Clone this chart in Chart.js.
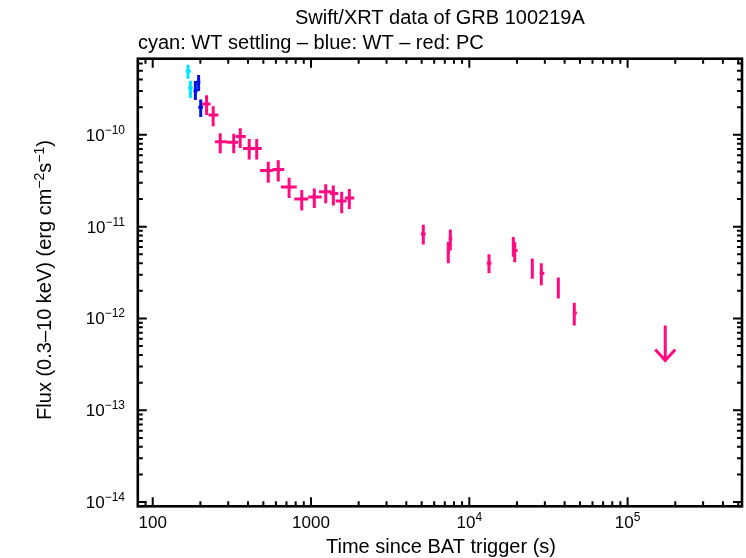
<!DOCTYPE html>
<html>
<head>
<meta charset="utf-8">
<script src="https://cdn.jsdelivr.net/npm/chart.js@4"></script>
<style>
  html, body { margin: 0; padding: 0; background: #fff; }
  #wrap { width: 746px; height: 558px; }
</style>
</head>
<body>
<div id="wrap"><canvas id="lc" width="746" height="558"></canvas></div>
<script>
// light curve data: [time, timeLo, timeHi, flux, fluxLo, fluxHi]
const wtSettling = [
    [167, 162, 174, 4.93e-10, 4.09e-10, 5.81e-10],
    [173, 167, 179, 3.24e-10, 2.52e-10, 3.89e-10]
];
const wtMode = [
    [186, 181, 192, 3.01e-10, 2.40e-10, 3.86e-10],
    [195, 189, 200, 3.77e-10, 3.01e-10, 4.49e-10],
    [201, 194, 208, 2.00e-10, 1.56e-10, 2.42e-10]
];
const pcMode = [
    [219, 205, 232, 2.17e-10, 1.64e-10, 2.70e-10],
    [241, 225, 260, 1.64e-10, 1.24e-10, 2.05e-10],
    [267, 247, 295, 8.4e-11, 6.3e-11, 1.04e-10],
    [325, 295, 346, 8.3e-11, 6.3e-11, 1.03e-10],
    [357, 334, 387, 9.6e-11, 7.2e-11, 1.18e-10],
    [407, 372, 443, 7.1e-11, 5.4e-11, 9.0e-11],
    [454, 443, 488, 7.1e-11, 5.4e-11, 9.0e-11],
    [537, 476, 578, 4.1e-11, 3.0e-11, 5.1e-11],
    [621, 570, 678, 4.2e-11, 3.1e-11, 5.3e-11],
    [727, 646, 812, 2.7e-11, 2.05e-11, 3.4e-11],
    [874, 784, 961, 2.0e-11, 1.5e-11, 2.5e-11],
    [1049, 961, 1168, 2.1e-11, 1.6e-11, 2.6e-11],
    [1239, 1123, 1351, 2.4e-11, 1.8e-11, 2.9e-11],
    [1384, 1318, 1488, 2.3e-11, 1.7e-11, 2.8e-11],
    [1563, 1432, 1681, 1.9e-11, 1.4e-11, 2.4e-11],
    [1746, 1640, 1877, 2.05e-11, 1.56e-11, 2.57e-11],
    [5120, 4950, 5300, 8.3e-12, 6.4e-12, 1.05e-11],
    [7363, 7200, 7550, 5.3e-12, 4.0e-12, 6.8e-12],
    [7585, 7400, 7800, 7.4e-12, 5.5e-12, 9.3e-12],
    [13320, 12900, 13800, 4.0e-12, 3.1e-12, 5.0e-12],
    [18970, 18600, 19400, 6.2e-12, 4.7e-12, 7.7e-12],
    [19360, 19000, 20200, 5.5e-12, 4.1e-12, 6.8e-12],
    [25000, 24500, 25500, 3.65e-12, 2.7e-12, 4.5e-12],
    [28510, 27800, 29800, 3.1e-12, 2.3e-12, 4.0e-12],
    [36500, 36000, 37000, 2.2e-12, 1.65e-12, 2.8e-12],
    [46030, 45000, 47800, 1.15e-12, 8.4e-13, 1.48e-12]
];
// upper limit: [time, flux limit]
const pcUpperLimits = [
    [172900, 8.4e-13]
];

const xTicks = [100, 1000, 1e4, 1e5];
const xTickLabels = [['100', ''], ['1000', ''], ['10', '4'], ['10', '5']];
const yTicks = [1e-10, 1e-11, 1e-12, 1e-13, 1e-14];
const yTickLabels = [['10', '\u221210'], ['10', '\u221211'], ['10', '\u221212'], ['10', '\u221213'], ['10', '\u221214']];

const FONT = "'Liberation Sans', Arial, Helvetica, sans-serif";

function toPoints(rows) {
    return rows.map(r => ({ x: r[0], y: r[3], xLo: r[1], xHi: r[2], yLo: r[4], yHi: r[5] }));
}

// text with superscript parts, segs = [[text, isSup], ...]
function segWidth(ctx, segs, size, supSize) {
    let w = 0;
    segs.forEach(s => {
        ctx.font = (s[1] ? supSize : size) + 'px ' + FONT;
        w += ctx.measureText(s[0]).width;
    });
    return w;
}
function drawSegs(ctx, segs, x, y, size, supSize, supRise) {
    ctx.textAlign = 'left';
    ctx.textBaseline = 'alphabetic';
    segs.forEach(s => {
        ctx.font = (s[1] ? supSize : size) + 'px ' + FONT;
        ctx.fillText(s[0], x, s[1] ? y - supRise : y);
        x += ctx.measureText(s[0]).width;
    });
}

const lcPlugin = {
    id: 'lcPlugin',
    afterDatasetsDraw(chart) {
        const ctx = chart.ctx;
        const xs = chart.scales.x, ys = chart.scales.y;
        const a = chart.chartArea;
        ctx.save();

        // error bars
        chart.data.datasets.forEach(ds => {
            ctx.strokeStyle = ds.borderColor;
            ctx.lineWidth = 3;
            ctx.lineCap = 'butt';
            ds.data.forEach(p => {
                if (p.limit) return;
                const px = xs.getPixelForValue(p.x), py = ys.getPixelForValue(p.y);
                ctx.beginPath();
                ctx.moveTo(xs.getPixelForValue(p.xLo), py);
                ctx.lineTo(xs.getPixelForValue(p.xHi), py);
                ctx.moveTo(px, ys.getPixelForValue(p.yLo));
                ctx.lineTo(px, ys.getPixelForValue(p.yHi));
                ctx.stroke();
            });
            // upper limit arrows
            ds.data.forEach(p => {
                if (!p.limit) return;
                const px = xs.getPixelForValue(p.x), py = ys.getPixelForValue(p.y);
                ctx.lineWidth = 3;
                ctx.beginPath();
                ctx.moveTo(px, py);
                ctx.lineTo(px, py + 34);
                ctx.moveTo(px - 10, py + 24);
                ctx.lineTo(px, py + 35);
                ctx.lineTo(px + 10, py + 24);
                ctx.stroke();
            });
        });

        // frame
        ctx.strokeStyle = '#000';
        ctx.lineWidth = 2.6;
        ctx.strokeRect(a.left, a.top, a.right - a.left, a.bottom - a.top);

        // ticks on all four sides
        ctx.lineWidth = 2;
        ctx.beginPath();
        for (let d = 1; d <= 6; d++) {
            for (let m = 1; m <= 9; m++) {
                const v = m * Math.pow(10, d);
                if (v < xs.min || v > xs.max) continue;
                const len = m === 1 ? 9 : 5;
                const px = xs.getPixelForValue(v);
                ctx.moveTo(px, a.bottom); ctx.lineTo(px, a.bottom - len);
                ctx.moveTo(px, a.top); ctx.lineTo(px, a.top + len);
            }
        }
        for (let d = -15; d <= -9; d++) {
            for (let m = 1; m <= 9; m++) {
                const v = m * Math.pow(10, d);
                if (v < ys.min || v > ys.max) continue;
                const len = m === 1 ? 9 : 5;
                const py = ys.getPixelForValue(v);
                ctx.moveTo(a.left, py); ctx.lineTo(a.left + len, py);
                ctx.moveTo(a.right, py); ctx.lineTo(a.right - len, py);
            }
        }
        ctx.stroke();

        ctx.fillStyle = '#000';
        // x tick labels
        xTicks.forEach((v, i) => {
            const segs = [[xTickLabels[i][0], false], [xTickLabels[i][1], true]];
            const w = segWidth(ctx, segs, 17, 12);
            drawSegs(ctx, segs, xs.getPixelForValue(v) - w / 2, 528, 17, 12, 7);
        });
        // y tick labels
        yTicks.forEach((v, i) => {
            const segs = [[yTickLabels[i][0], false], [yTickLabels[i][1], true]];
            const w = segWidth(ctx, segs, 17, 12);
            drawSegs(ctx, segs, 125 - w, ys.getPixelForValue(v) + 6, 17, 12, 7);
        });

        // titles
        const t1 = [['Swift/XRT data of GRB 100219A', false]];
        drawSegs(ctx, t1, (a.left + a.right) / 2 - segWidth(ctx, t1, 20, 14) / 2, 24, 20, 14, 7);
        drawSegs(ctx, [['cyan: WT settling \u2013 blue: WT \u2013 red: PC', false]], 138, 49, 20, 14, 7);

        const xt = [['Time since BAT trigger (s)', false]];
        drawSegs(ctx, xt, 441 - segWidth(ctx, xt, 20, 14) / 2, 553, 20, 14, 7);

        const yt = [['Flux (0.3\u201310 keV) (erg cm', false], ['\u22122', true], ['s', false], ['\u22121', true], [')', false]];
        ctx.translate(51, 280);
        ctx.rotate(-Math.PI / 2);
        drawSegs(ctx, yt, -segWidth(ctx, yt, 20, 14) / 2, 0, 20, 14, 7);
        ctx.restore();
    }
};

const ctx = document.getElementById('lc').getContext('2d');
const pcPoints = toPoints(pcMode).concat(pcUpperLimits.map(r => ({ x: r[0], y: r[1], limit: true })));

new Chart(ctx, {
    type: 'scatter',
    data: {
        datasets: [
            { label: 'WT settling', data: toPoints(wtSettling), borderColor: '#00e5ff', backgroundColor: '#00e5ff' },
            { label: 'WT', data: toPoints(wtMode), borderColor: '#0010e6', backgroundColor: '#0010e6' },
            { label: 'PC', data: pcPoints, borderColor: '#ff0a80', backgroundColor: '#ff0a80' }
        ]
    },
    options: {
        responsive: false,
        animation: false,
        devicePixelRatio: 1,
        layout: { padding: { left: 137.8, top: 58.7, right: 4, bottom: 51.7 } },
        elements: { point: { radius: 0, hoverRadius: 0 } },
        plugins: { legend: { display: false }, tooltip: { enabled: false } },
        scales: {
            x: { type: 'logarithmic', display: false, min: 80.5, max: 5.28e5 },
            y: { type: 'logarithmic', display: false, min: 9.21e-15, max: 6.75e-10 }
        }
    },
    plugins: [lcPlugin]
});
</script>
</body>
</html>
